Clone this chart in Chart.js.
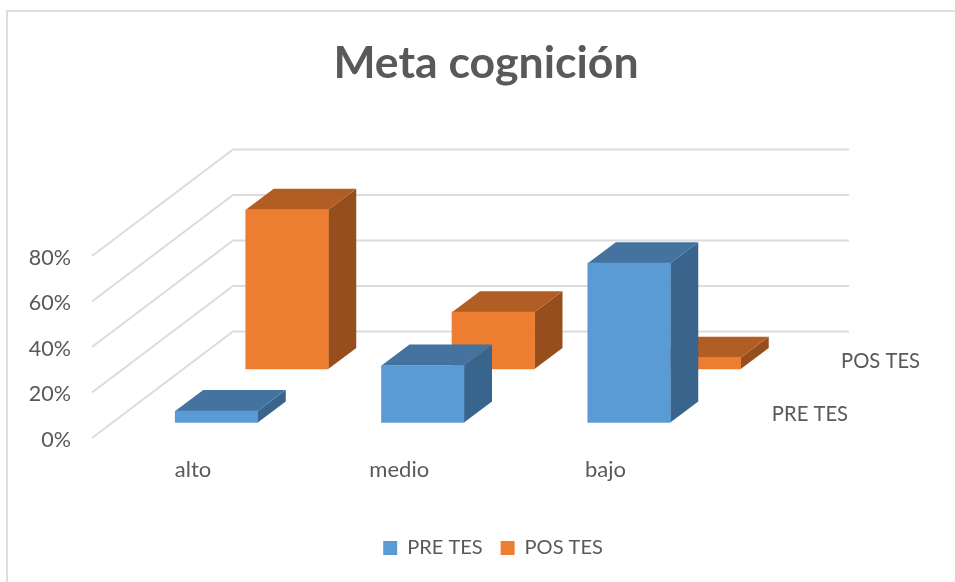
<!DOCTYPE html>
<html><head><meta charset="utf-8">
<style>html,body{margin:0;padding:0;background:#fff}canvas{display:block}</style>
<script src="https://cdn.jsdelivr.net/npm/chart.js@4"></script>
</head><body><canvas id="c" width="955" height="582"></canvas>
<script>
const categories = ["alto", "medio", "bajo"];
const preTes = [5, 25, 70];
const posTes = [70, 25, 5];
const yTicks = [0, 20, 40, 60, 80];
const seriesNames = ["PRE TES", "POS TES"];
const titleText = "Meta cognición";

const FONT = "Lato";
const TXT = "#595959";
const DEPTH = {dx: 28, dy: 21};
const WALL = {dx: 141, dy: 106.5};
const LABEL_DROP = 2;
const shades = [
  {front: "#5b9bd5", top: "#44739f", side: "#39648b"},
  {front: "#ed7d31", top: "#b15d23", side: "#964f1c"}
];

const toPts = vals => vals.map((v, i) => ({x: i, y: v}));

const threeD = {
  id: "threeD",
  afterLayout(chart) {
    chart.legend.left += 7;
    chart.legend.right += 7;
  },
  beforeDraw(chart) {
    const c = chart.ctx;
    c.save();
    c.fillStyle = "#fff"; c.fillRect(0, 0, chart.width, chart.height);
    c.fillStyle = "#dedede";
    c.fillRect(6, 10, chart.width - 6, 2);
    c.fillRect(6, 10, 2, chart.height - 10);
    c.restore();
  },
  beforeDatasetsDraw(chart) {
    const c = chart.ctx, y = chart.scales.y, a = chart.chartArea;
    c.save();
    c.strokeStyle = "#dcdcdc"; c.lineWidth = 2;
    yTicks.forEach(v => {
      const py = y.getPixelForValue(v) - LABEL_DROP;
      c.beginPath();
      c.moveTo(a.left, py);
      c.lineTo(a.left + WALL.dx, py - WALL.dy);
      c.lineTo(a.right, py - WALL.dy);
      c.stroke();
    });
    c.fillStyle = TXT; c.font = "20.2px " + FONT; c.textBaseline = "middle"; c.textAlign = "right";
    c.fillText(seriesNames[1], a.right + 71, 361);
    c.fillText(seriesNames[0], a.right - 1, 414);
    c.restore();
  },
  beforeDatasetDraw(chart, args) {
    const c = chart.ctx, s = shades[args.index];
    const meta = chart.getDatasetMeta(args.index);
    c.save();
    meta.data.forEach(b => {
      const l = b.x - b.width / 2, r = b.x + b.width / 2, t = b.y, bt = b.base;
      c.fillStyle = s.side;
      c.beginPath();
      c.moveTo(r, t); c.lineTo(r + DEPTH.dx, t - DEPTH.dy);
      c.lineTo(r + DEPTH.dx, bt - DEPTH.dy); c.lineTo(r, bt);
      c.closePath(); c.fill();
      c.fillStyle = s.top;
      c.beginPath();
      c.moveTo(l, t); c.lineTo(l + DEPTH.dx, t - DEPTH.dy);
      c.lineTo(r + DEPTH.dx, t - DEPTH.dy); c.lineTo(r, t);
      c.closePath(); c.fill();
    });
    c.restore();
  }
};

new Chart(document.getElementById("c"), {
  type: "bar",
  plugins: [threeD],
  data: {
    datasets: [
      {label: seriesNames[0], data: toPts(preTes), xAxisID: "xPre", yAxisID: "yPre",
       backgroundColor: shades[0].front, barThickness: 82.5, grouped: false},
      {label: seriesNames[1], data: toPts(posTes), xAxisID: "xPos", yAxisID: "yPos",
       backgroundColor: shades[1].front, barThickness: 82.5, grouped: false}
    ]
  },
  options: {
    responsive: false, animation: false,
    layout: {padding: {left: 17, right: 0, top: 0, bottom: 14}},
    plugins: {
      title: {display: true, text: titleText, color: TXT,
        font: {family: FONT, size: 44.6, weight: "bold", lineHeight: 1.2},
        padding: {top: 37, bottom: 58.5}},
      legend: {position: "bottom",
        labels: {boxWidth: 14, boxHeight: 14, color: TXT, padding: 18, font: {family: FONT, size: 20}}},
      tooltip: {enabled: false}
    },
    scales: {
      y: {type: "linear", position: "left", min: 0.88, max: 127.91, bounds: "data", offset: false,
        grid: {display: false}, border: {display: false},
        afterBuildTicks: s => { s.ticks = yTicks.map(v => ({value: v})); },
        afterFit: s => { s.width = 75; },
        ticks: {color: TXT, padding: 13, font: {family: FONT, size: 21.5}, callback: v => v + "%"}},
      yPre: {type: "linear", display: false, min: -6.86, max: 120.17, bounds: "data"},
      yPos: {type: "linear", position: "right", min: -30.33, max: 96.7, bounds: "data",
        grid: {display: false}, border: {display: false},
        ticks: {display: false},
        afterFit: s => { s.width = 106; }},
      x: {type: "linear", position: "bottom", min: -0.4897, max: 3.1806, bounds: "data", offset: false,
        grid: {display: false}, border: {display: false},
        afterBuildTicks: s => { s.ticks = categories.map((_, i) => ({value: i})); },
        afterFit: s => { s.height = 82; },
        ticks: {color: TXT, padding: 11, maxRotation: 0, autoSkip: false,
          font: {family: FONT, size: 22}, callback: v => categories[v]}},
      xPre: {type: "linear", display: false, offset: false, min: -0.6035, max: 3.0665, bounds: "data"},
      xPos: {type: "linear", display: false, offset: false, min: -0.9455, max: 2.725, bounds: "data"}
    }
  }
});
</script></body></html>
